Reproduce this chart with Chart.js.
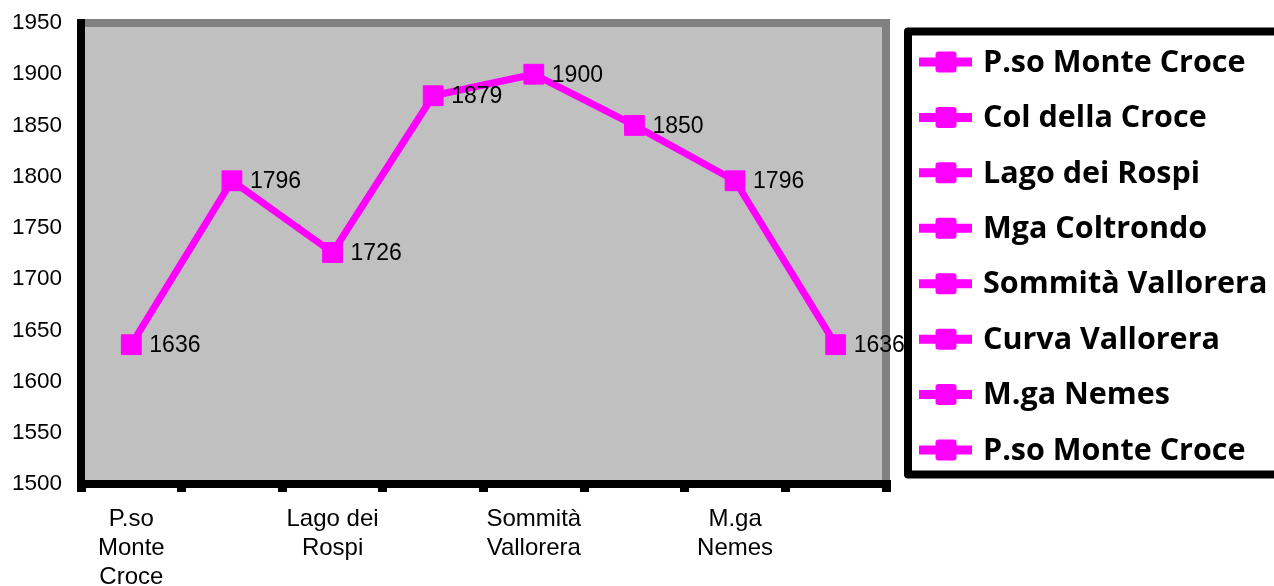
<!DOCTYPE html>
<html>
<head>
<meta charset="utf-8">
<script src="https://cdn.jsdelivr.net/npm/chart.js@4.4.0/dist/chart.umd.min.js"></script>
<style>
  html, body { margin: 0; padding: 0; background: #fff; }
  #wrap { width: 1274px; height: 586px; }
</style>
</head>
<body>
<div id="wrap"><canvas id="chart" width="1274" height="586"></canvas></div>
<script>
// Stops along the route (legend names) and their altitude in metres
const categories = ['P.so Monte Croce', 'Col della Croce', 'Lago dei Rospi', 'Mga Coltrondo',
                    'Sommità Vallorera', 'Curva Vallorera', 'M.ga Nemes', 'P.so Monte Croce'];
// Axis labels: only every other stop is printed, wrapped on several lines
const axisLabels = [['P.so', 'Monte', 'Croce'], '', ['Lago dei', 'Rospi'], '',
                    ['Sommità', 'Vallorera'], '', ['M.ga', 'Nemes'], ''];
const altitudes = [1636, 1796, 1726, 1879, 1900, 1850, 1796, 1636];
const yMin = 1500;
const yMax = 1950;
const yStep = 50;

const MAGENTA = '#FF00FF';
const ARIAL = '"Liberation Sans", Arial, sans-serif';

// Gray plot background with gray top/right frame
const plotBackground = {
    id: 'plotBackground',
    beforeDraw(chart) {
        const { ctx, chartArea: a } = chart;
        ctx.save();
        ctx.fillStyle = '#C0C0C0';
        ctx.fillRect(a.left, a.top, a.right - a.left, a.bottom - a.top);
        ctx.strokeStyle = '#808080';
        ctx.lineWidth = 8;
        ctx.beginPath();
        ctx.moveTo(a.left, a.top);
        ctx.lineTo(a.right, a.top);
        ctx.lineTo(a.right, a.bottom);
        ctx.stroke();
        ctx.restore();
    }
};

// Value labels to the right of each point
const valueLabels = {
    id: 'valueLabels',
    afterDraw(chart) {
        const { ctx } = chart;
        const meta = chart.getDatasetMeta(0);
        ctx.save();
        ctx.font = '23px ' + ARIAL;
        ctx.fillStyle = '#000';
        ctx.textAlign = 'left';
        ctx.textBaseline = 'middle';
        meta.data.forEach((pt, i) => {
            ctx.fillText(String(altitudes[i]), pt.x + 18, pt.y + 1);
        });
        ctx.restore();
    }
};

// Boxed legend on the right, one entry per stop
const boxLegend = {
    id: 'boxLegend',
    afterDraw(chart) {
        const { ctx } = chart;
        ctx.save();
        ctx.strokeStyle = '#000';
        ctx.lineWidth = 8;
        ctx.lineJoin = 'round';
        ctx.strokeRect(908, 31.5, 400, 443);

        const top = 62, gap = (450 - 62) / 7;
        ctx.font = 'bold 30.5px "Open Sans", sans-serif';
        ctx.textBaseline = 'middle';
        ctx.textAlign = 'left';
        categories.forEach((name, i) => {
            const y = top + i * gap;
            ctx.strokeStyle = MAGENTA;
            ctx.lineWidth = 9;
            ctx.lineCap = 'butt';
            ctx.beginPath();
            ctx.moveTo(919, y);
            ctx.lineTo(972, y);
            ctx.stroke();
            ctx.fillStyle = MAGENTA;
            ctx.beginPath();
            ctx.roundRect(935.5, y - 10.5, 21, 21, 3);
            ctx.fill();
            ctx.fillStyle = '#000';
            ctx.fillText(name, 983, y + 1);
        });
        ctx.restore();
    }
};

new Chart(document.getElementById('chart'), {
    type: 'line',
    data: {
        labels: categories,
        datasets: [{
            label: 'Altitudine',
            data: altitudes,
            borderColor: MAGENTA,
            backgroundColor: MAGENTA,
            borderWidth: 7,
            tension: 0,
            pointStyle: 'rect',
            pointRadius: 14,
            pointBorderWidth: 1,
            pointHoverRadius: 14,
            clip: false
        }]
    },
    options: {
        responsive: false,
        devicePixelRatio: 1,
        animation: false,
        layout: { autoPadding: false, padding: { left: 0, top: 23, right: 388, bottom: 0 } },
        plugins: {
            legend: { display: false },
            tooltip: { enabled: false }
        },
        scales: {
            x: {
                offset: true,
                grid: {
                    offset: true,
                    drawOnChartArea: false,
                    color: '#000',
                    lineWidth: 9,
                    tickLength: 8
                },
                border: { color: '#000', width: 8 },
                ticks: {
                    autoSkip: false,
                    maxRotation: 0,
                    padding: 13,
                    color: '#000',
                    font: { family: ARIAL, size: 24, lineHeight: 1.2 },
                    callback: (v, i) => axisLabels[i]
                },
                afterFit(scale) { scale.height = 102; }
            },
            y: {
                min: yMin,
                max: yMax,
                grid: {
                    drawOnChartArea: false,
                    color: '#000',
                    lineWidth: 8,
                    tickLength: 3
                },
                border: { color: '#000', width: 8 },
                ticks: {
                    stepSize: yStep,
                    padding: 16,
                    color: '#000',
                    font: { family: ARIAL, size: 22.5 },
                    callback: v => String(v)
                },
                afterFit(scale) {
                    scale.width = 81;
                    scale.paddingTop = 0;
                    scale.paddingBottom = 0;
                }
            }
        }
    },
    plugins: [plotBackground, valueLabels, boxLegend]
});
</script>
</body>
</html>
